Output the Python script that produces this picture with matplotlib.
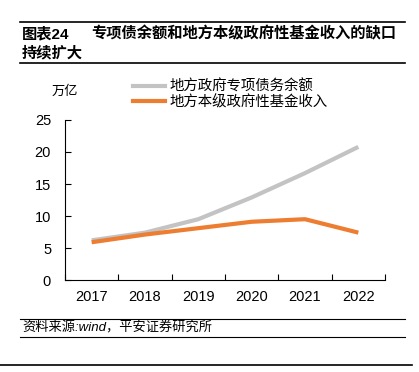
import matplotlib.pyplot as plt
from matplotlib.lines import Line2D

plt.rcParams["font.family"] = ["Liberation Sans", "Noto Sans CJK SC", "DejaVu Sans"]

years = ["2017", "2018", "2019", "2020", "2021", "2022"]
special_bond = [6.2, 7.4, 9.5, 12.9, 16.7, 20.8]
fund_income = [5.9, 7.1, 8.1, 9.1, 9.5, 7.4]
yticks = [0, 5, 10, 15, 20, 25]

gray = "#c3c3c3"
orange = "#ed7d31"

fig = plt.figure(figsize=(4.19, 3.72), dpi=100)
ax = fig.add_axes([65 / 419, 1 - 280 / 372, 320 / 419, 160 / 372])

x = range(len(years))
ax.plot(x, special_bond, color=gray, lw=3, solid_capstyle="butt",
        label="地方政府专项债务余额")
ax.plot(x, fund_income, color=orange, lw=3, solid_capstyle="butt",
        label="地方本级政府性基金收入")

ax.set_xlim(-0.5, len(years) - 0.5)
ax.set_ylim(0, 25)
ax.set_yticks(yticks)
ax.set_xticks([i - 0.5 for i in range(len(years) + 1)])
ax.set_xticklabels([])
ax.set_xticks(list(x), minor=True)
ax.set_xticklabels(years, minor=True)
ax.tick_params(axis="x", which="major", direction="in", length=4, width=0.8)
ax.tick_params(axis="x", which="minor", length=0, pad=7, labelsize=10.5)
ax.tick_params(axis="y", direction="in", length=4, width=0.8, pad=10, labelsize=10.5)
for s in ["top", "right"]:
    ax.spines[s].set_visible(False)
for s in ["left", "bottom"]:
    ax.spines[s].set_linewidth(0.8)

# legend
handles = [Line2D([], [], color=gray, lw=3), Line2D([], [], color=orange, lw=3)]
fig.legend(handles, ["地方政府专项债务余额", "地方本级政府性基金收入"],
           loc="upper left", bbox_to_anchor=(133 / 419, 1 - 80 / 372),
           frameon=False, fontsize=10.4, handlelength=2.2, handletextpad=0.3,
           labelspacing=0.05, borderpad=0, borderaxespad=0)
fig.text(65 / 419, 1 - 92 / 372, "万亿", fontsize=9.5, ha="center", va="center")

# title and rules
fig.add_artist(Line2D([20 / 419, 405 / 419], [1 - 22 / 372] * 2, color="black", lw=1.2))
fig.text(22 / 419, 1 - 34 / 372, "图表24", fontsize=11, fontweight="bold", va="center")
fig.text(91 / 419, 1 - 34 / 372, "专项债余额和地方本级政府性基金收入的缺口",
         fontsize=11, fontweight="bold", va="center")
fig.text(22 / 419, 1 - 53 / 372, "持续扩大", fontsize=11, fontweight="bold", va="center")
fig.add_artist(Line2D([20 / 419, 405 / 419], [1 - 63 / 372] * 2, color="black", lw=1.2))

# source
fig.add_artist(Line2D([20 / 419, 405 / 419], [1 - 319 / 372] * 2, color="black", lw=0.8))
fig.text(22 / 419, 1 - 328 / 372, "资料来源:wind，平安证券研究所", fontsize=9.5,
         style="italic", va="center")
fig.add_artist(Line2D([20 / 419, 405 / 419], [1 - 337 / 372] * 2, color="black", lw=0.8))
fig.add_artist(Line2D([0, 412 / 419], [1 - 365 / 372] * 2, color="black", lw=1.2))

fig.savefig("out.png", dpi=100)
